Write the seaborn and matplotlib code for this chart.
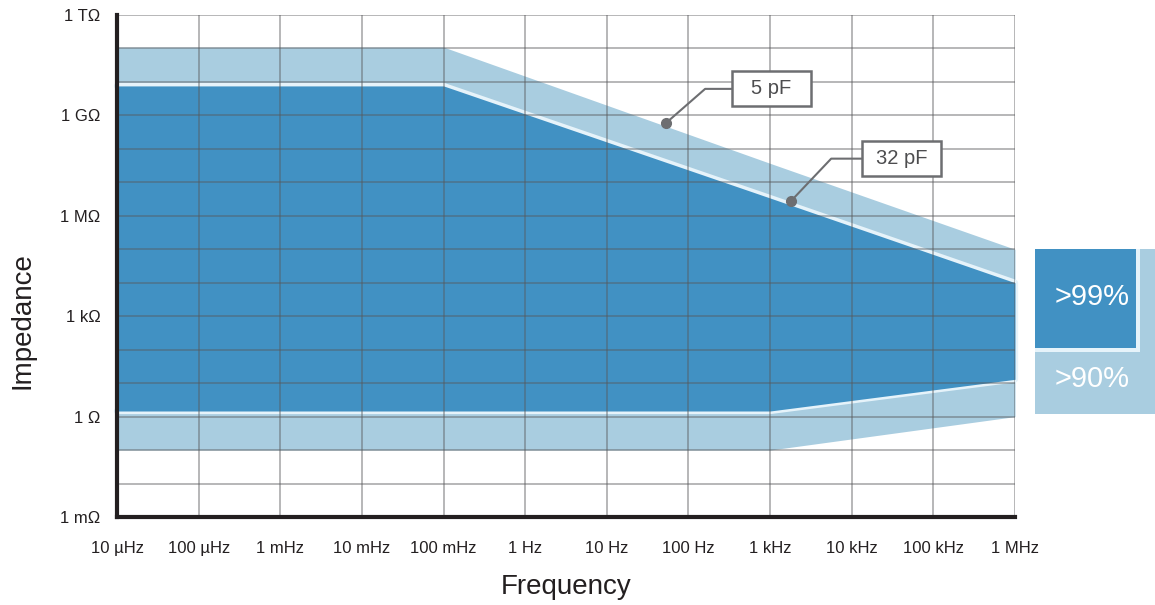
import numpy as np
import pandas as pd
import matplotlib
matplotlib.use("Agg")
import matplotlib.pyplot as plt
import seaborn as sns
from matplotlib.patches import Rectangle
from matplotlib.transforms import Affine2D, ScaledTranslation

# frequency knots (Hz) and impedance limits (Ohm)
freq_knots = [1e-5, 1e-1, 1e3, 1e6]
upper_90 = [1.1e11, 1.1e11, 3.7e7, 1e5]
upper_99 = [7.6e9, 7.6e9, 3.4e6, 1e4]
lower_99 = [1.47, 1.47, 1.47, 13]
lower_90 = [0.1, 0.1, 0.1, 1.0]

x_ticks = [1e-5, 1e-4, 1e-3, 1e-2, 1e-1, 1e0, 1e1, 1e2, 1e3, 1e4, 1e5, 1e6]
x_labels = ["10 µHz", "100 µHz", "1 mHz", "10 mHz", "100 mHz", "1 Hz",
            "10 Hz", "100 Hz", "1 kHz", "10 kHz", "100 kHz", "1 MHz"]
y_ticks = [10.0 ** p for p in range(-3, 13)]
y_labels = ["1 mΩ", "", "", "1 Ω", "", "", "1 kΩ", "", "", "1 MΩ", "", "",
            "1 GΩ", "", "", "1 TΩ"]

# callouts: (label, dot freq, dot Z, elbow freq, elbow Z, box-left freq)
callouts = [
    ("5 pF", 53, 5.9e8, 160, 6.2e9, 340),
    ("32 pF", 1.8e3, 2.75e6, 5.6e3, 5.1e7, 1.33e4),
]

dark = "#4191c3"
light = "#a9cde0"
pale = "#e6f3fa"
ink = "#231f20"
callout_grey = "#6d6e71"

sns.set_theme(style="white")
plt.rcParams["font.family"] = ["Liberation Sans", "DejaVu Sans"]

fig = plt.figure(figsize=(11.55, 6.05), dpi=100)
ax = fig.add_axes([117 / 1155, 1 - 517 / 605, 898 / 1155, 502 / 605])
ax.set_xscale("log")
ax.set_yscale("log")

# >90% band, separator, >99% band
ax.fill_between(freq_knots, lower_90, upper_90, color=light, lw=0, zorder=1)
outline = pd.DataFrame({
    "f": freq_knots + freq_knots[::-1],
    "z": upper_99 + lower_99[::-1],
})
sns.lineplot(data=outline, x="f", y="z", ax=ax, estimator=None, sort=False,
             color=pale, lw=4.5, zorder=2.1, clip_on=False)
ax.fill_between(freq_knots, lower_99, upper_99, color=dark, lw=0, zorder=2.2)

ax.set_xlim(1e-5, 1e6)
ax.set_ylim(1e-3, 1e12)
ax.set_xticks(x_ticks)
ax.set_xticklabels(x_labels)
ax.set_yticks(y_ticks)
ax.set_yticklabels(y_labels)
ax.minorticks_off()
ax.set_xlabel("")
ax.set_ylabel("")

ax.set_axisbelow(False)
ax.grid(True, which="major", color="#58595b", alpha=0.55, lw=1.1)
ax.tick_params(axis="both", length=0, labelsize=12, labelcolor=ink)
ax.tick_params(axis="x", pad=17)
ax.tick_params(axis="y", pad=12)
for side in ["top", "right"]:
    ax.spines[side].set_visible(False)
for side in ["left", "bottom"]:
    ax.spines[side].set_color(ink)
    ax.spines[side].set_linewidth(3)
    ax.spines[side].set_zorder(6)

# callouts with boxes
for label, fx, zx, ex, ez, bx in callouts:
    ax.plot([fx, ex, bx], [zx, ez, ez], color=callout_grey, lw=1.5, zorder=5)
    ax.plot([fx], [zx], "o", color=callout_grey, ms=7, zorder=5)
    trans = Affine2D() + ScaledTranslation(bx, ez, ax.transData)
    ax.add_patch(Rectangle((0, -17.5), 79, 35, transform=trans, facecolor="white",
                           edgecolor=callout_grey, lw=1.8, zorder=5, clip_on=False))
    ax.annotate(label, xy=(bx, ez), xytext=(39.5 * 0.72, 0), textcoords="offset points",
                ha="center", va="center", fontsize=14.5, color="#4d4d4f", zorder=6)

# legend blocks at right
fig.add_artist(Rectangle((1035 / 1155, 1 - 414 / 605), 120 / 1155, 165 / 605,
                         transform=fig.transFigure, facecolor=light, lw=0))
fig.add_artist(Rectangle((1035 / 1155, 1 - 352 / 605), 105 / 1155, 103 / 605,
                         transform=fig.transFigure, facecolor=pale, lw=0))
fig.add_artist(Rectangle((1035 / 1155, 1 - 348 / 605), 101 / 1155, 99 / 605,
                         transform=fig.transFigure, facecolor=dark, lw=0))
fig.text(1092 / 1155, 1 - 297 / 605, ">99%", color="white", fontsize=21,
         ha="center", va="center")
fig.text(1092 / 1155, 1 - 379 / 605, ">90%", color="white", fontsize=21,
         ha="center", va="center")

fig.text(566 / 1155, 1 - 587 / 605, "Frequency", fontsize=20, color=ink,
         ha="center", va="center")
fig.text(22 / 1155, 1 - 321 / 605, "Impedance", fontsize=20, color=ink,
         ha="center", va="center", rotation=90)

fig.savefig("out.png", dpi=100)
